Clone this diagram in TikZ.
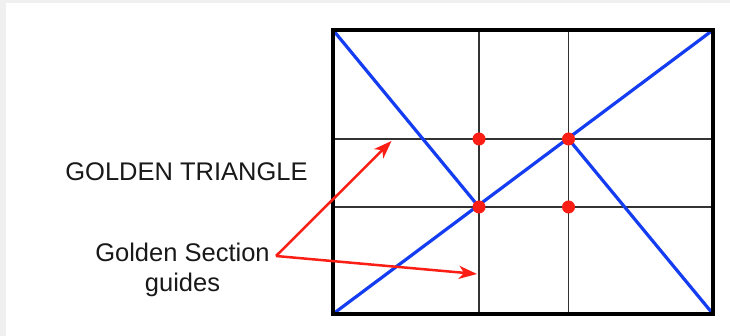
\documentclass[tikz,border=0pt]{standalone}
\usepackage{fontspec}
\setmainfont{Liberation Sans}
\usetikzlibrary{arrows.meta}
\definecolor{gblue}{RGB}{20,60,240}
\definecolor{gred}{RGB}{250,30,20}
\definecolor{bggray}{RGB}{240,240,240}
\begin{document}
\begin{tikzpicture}[x=1pt,y=-1pt,
  frame/.style={draw=black,line width=3.2pt},
  gridline/.style={draw=black!80,line width=1.6pt},
  blueline/.style={draw=gblue,line width=3.2pt},
  gdot/.style={circle,fill=gred,inner sep=0pt,minimum size=13pt},
  redarrow/.style={draw=gred,line width=2.5pt,-{Stealth[length=18pt,width=13pt,inset=5pt]}},
  lbl/.style={font=\fontsize{25.5}{30}\selectfont,text=black!90,inner sep=0pt,align=center}]
\useasboundingbox (0,0) rectangle (730,336);
\fill[bggray] (0,0) rectangle (730,336);
\fill[white] (6,3) rectangle (730,336);
% frame corners
\coordinate (tl) at (333,30);
\coordinate (tr) at (713,30);
\coordinate (bl) at (333,314);
\coordinate (br) at (713,314);
% grid ends
\coordinate (v1t) at (479,30); \coordinate (v1b) at (479,314);
\coordinate (v2t) at (568.5,30); \coordinate (v2b) at (568.5,314);
\coordinate (h1l) at (333,139); \coordinate (h1r) at (713,139);
\coordinate (h2l) at (333,207); \coordinate (h2r) at (713,207);
\draw[gridline] (v1t) -- (v1b);
\draw[gridline] (v2t) -- (v2b);
\draw[gridline] (h1l) -- (h1r);
\draw[gridline] (h2l) -- (h2r);
% intersections
\coordinate (p11) at (479,139);
\coordinate (p21) at (568.5,139);
\coordinate (p12) at (479,207);
\coordinate (p22) at (568.5,207);
% blue lines
\draw[blueline,line cap=round] (bl) -- (tr);
\draw[blueline,line cap=round] (tl) -- (p12);
\draw[blueline,line cap=round] (p21) -- (br);
\draw[frame] (tl) rectangle (br);
% dots
\node[gdot] (d11) at (p11) {};
\node[gdot] (d21) at (p21) {};
\node[gdot] (d12) at (p12) {};
\node[gdot] (d22) at (p22) {};
% labels
\node[lbl] (gt) at (186.5,172) {GOLDEN TRIANGLE};
\node[lbl] (gs) at (182.5,270) {Golden Section\\guides};
\coordinate (tail) at (276,256);
\coordinate (tip1) at (391.5,141);
\coordinate (tip2) at (477,274);
\draw[redarrow] (tail) -- (tip1);
\draw[redarrow] (tail) -- (tip2);
\end{tikzpicture}
\end{document}
